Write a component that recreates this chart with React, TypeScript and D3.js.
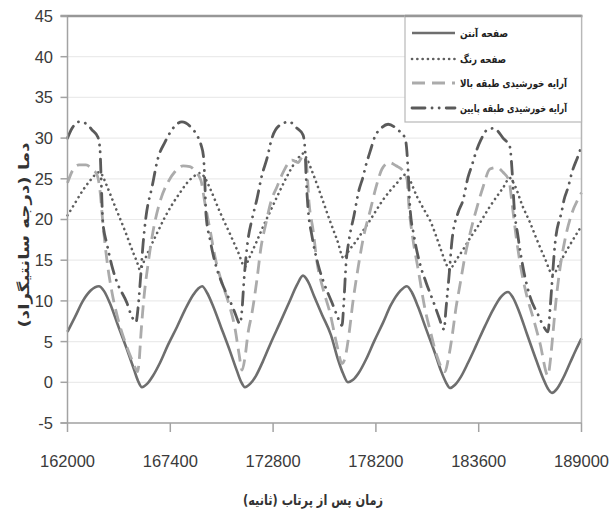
import React from "react";
import * as d3 from "d3";

// ---- data ----
const xTickValues = [162000, 167400, 172800, 178200, 183600, 189000];
const yTickValues = [-5, 0, 5, 10, 15, 20, 25, 30, 35, 40, 45];

const seriesNames = [
  "صفحه آنتن",
  "صفحه رنگ",
  "آرایه خورشیدی طبقه بالا",
  "آرایه خورشیدی طبقه پایین",
];
const xTitle = "زمان پس از پرتاب (ثانیه)";
const yTitle = "دما (درجه سانتیگراد)";

// antenna plate (solid)
const antennaTime = [
  162000, 162390, 162810, 163230, 163650, 163920, 164230, 164650, 165130, 165490, 165700, 165910,
  166180, 166490, 166860, 167280, 167750, 168170, 168590, 168860, 169070, 169330, 169640, 170060,
  170540, 170900, 171110, 171320, 171590, 171900, 172270, 172690, 173160, 173640, 174060, 174370,
  174630, 174950, 175370, 175840, 176210, 176470, 176730, 177000, 177310, 177680, 178100, 178570,
  178990, 179470, 179830, 180100, 180410, 180830, 181300, 181620, 181880, 182090, 182360, 182670,
  183040, 183460, 183930, 184350, 184770, 185140, 185400, 185720, 186140, 186610, 186980, 187240,
  187450, 187710, 188030, 188400, 188710, 189000,
];
const antennaTemp = [
  6.2, 8.0, 10.0, 11.3, 11.8, 11.2, 9.7, 7.0, 4.0, 1.6, 0.2, -0.6,
  -0.2, 0.8, 2.4, 4.6, 6.8, 8.9, 10.7, 11.5, 11.8, 11.0, 9.4, 6.8,
  3.8, 1.4, 0.1, -0.6, -0.2, 0.8, 2.6, 4.9, 7.3, 9.8, 12.0, 13.1,
  12.4, 10.6, 8.3, 5.8, 2.8, 1.1, 0.0, 0.3, 1.2, 2.8, 5.0, 7.3,
  9.5, 11.2, 11.8, 11.0, 9.3, 6.6, 3.6, 1.4, 0.0, -0.7, -0.3, 0.7,
  2.4, 4.5, 6.9, 8.9, 10.5, 11.1, 10.4, 8.7, 5.9, 2.8, 0.5, -0.8,
  -1.3, -0.8, 0.5, 2.4, 4.0, 5.4,
];

// paint plate (dotted)
const paintTime = [
  162000, 162390, 162810, 163230, 163650, 163810, 164020, 164500, 165020, 165440, 165650, 165810,
  165970, 166330, 166700, 167120, 167540, 167910, 168280, 168640, 168960, 169170, 169490, 170010,
  170540, 170960, 171320, 171530, 171900, 172270, 172690, 173110, 173530, 173950, 174210, 174370,
  174580, 174900, 175370, 175790, 176160, 176520, 176730, 177210, 177520, 177890, 178570, 179310,
  179730, 179940, 180360, 180780, 181040, 181570, 181880, 182090, 182300, 182780, 183140, 183510,
  184190, 184880, 185240, 185450, 185930, 186300, 186660, 187080, 187500, 187770, 188030, 188550,
  189000,
];
const paintTemp = [
  20.5, 22.0, 23.6, 24.9, 25.8, 25.5, 24.4, 21.6, 18.6, 16.0, 14.8, 13.8,
  14.6, 16.5, 18.3, 20.3, 22.0, 23.3, 24.5, 25.3, 25.7, 25.3, 23.8, 20.9,
  18.2, 16.0, 14.2, 15.2, 17.1, 19.1, 21.2, 23.3, 25.3, 27.0, 27.8, 28.1,
  27.4, 25.6, 22.6, 19.8, 17.5, 15.2, 16.0, 17.5, 18.6, 19.9, 22.4, 24.5,
  25.5, 25.0, 22.8, 21.0, 19.9, 16.6, 14.6, 13.8, 14.6, 16.3, 17.7, 19.0,
  21.6, 23.9, 25.1, 24.4, 21.5, 19.6, 17.5, 15.2, 13.2, 14.2, 15.4, 17.5,
  19.2,
];

// upper solar array (light long dash)
const upperTime = [
  162000, 162240, 162600, 162970, 163290, 163550, 163710, 163860, 164070, 164340, 164650, 165020,
  165340, 165550, 165680, 165760, 165860, 166020, 166230, 166490, 166860, 167280, 167650, 168070,
  168430, 168750, 169010, 169220, 169490, 169750, 170060, 170430, 170800, 171010, 171170, 171320,
  171480, 171690, 171950, 172160, 172430, 172690, 173000, 173370, 173790, 174110, 174370, 174530,
  174690, 174900, 175110, 175420, 175790, 176160, 176420, 176580, 176790, 177000, 177260, 177580,
  177890, 178210, 178520, 178890, 179260, 179620, 179830, 179940, 180150, 180410, 180780, 181090,
  181410, 181830, 181990, 182200, 182410, 182620, 182880, 183200, 183510, 183830, 184190, 184560,
  184880, 185190, 185350, 185560, 185820, 186140, 186450, 186820, 187240, 187350, 187500, 187660,
  187870, 188130, 188500, 188820, 189000,
];
const upperTemp = [
  24.5, 25.9, 26.7, 26.7, 26.2, 25.5, 23.5, 19.5, 15.0, 11.0, 7.8, 5.0,
  3.0, 1.8, 1.3, 2.5, 6.0, 10.5, 14.5, 18.5, 22.2, 24.6, 25.9, 26.6,
  26.5, 25.8, 24.8, 22.0, 18.7, 15.4, 12.6, 10.0, 6.6, 3.5, 1.5, 3.0,
  6.0, 8.5, 12.6, 16.5, 19.6, 22.2, 24.0, 26.0, 27.3, 27.0, 27.8, 27.3,
  22.0, 18.7, 14.7, 11.5, 8.5, 4.5, 2.3, 3.0, 6.0, 10.0, 14.0, 18.2,
  21.0, 24.0, 26.2, 27.0, 26.6, 26.0, 25.0, 21.5, 17.5, 14.0, 9.0, 6.0,
  3.2, 1.3, 2.7, 5.6, 9.2, 12.0, 15.5, 18.8, 21.5, 24.0, 26.2, 26.4,
  25.8, 24.8, 22.0, 18.0, 14.0, 10.5, 8.0, 4.8, 0.8, 2.4, 6.0, 10.0,
  14.0, 17.5, 20.8, 22.5, 23.3,
];

// lower solar array (dark long dash dot dot)
const lowerTime = [
  162000, 162240, 162600, 162970, 163290, 163600, 163710, 163760, 163860, 164070, 164390, 164600,
  165130, 165340, 165600, 165700, 165810, 165970, 166120, 166440, 166750, 167120, 167540, 168010,
  168540, 168860, 169010, 169140, 169200, 169280, 169490, 169800, 170060, 170590, 170800, 171060,
  171170, 171270, 171480, 171690, 171950, 172220, 172480, 172740, 173160, 173640, 174060, 174370,
  174480, 174530, 174630, 174840, 175160, 175470, 175890, 176160, 176420, 176520, 176630, 176790,
  177050, 177310, 177520, 177680, 177890, 178150, 178470, 178840, 179360, 179730, 179830, 179890,
  179990, 180200, 180520, 180830, 181250, 181510, 181780, 181880, 182040, 182200, 182510, 182780,
  183040, 183250, 183460, 183720, 184040, 184400, 184880, 185240, 185320, 185380, 185450, 185660,
  185980, 186300, 186720, 186980, 187240, 187350, 187450, 187610, 187980, 188080, 188290, 188500,
  188820, 189000,
];
const lowerTemp = [
  30.0, 31.2, 32.0, 31.8, 31.0, 30.1, 28.5, 25.5, 19.6, 17.0, 13.8, 12.3,
  9.7, 8.3, 7.4, 9.0, 12.0, 17.0, 20.3, 24.0, 27.5, 29.5, 31.2, 32.0,
  31.2, 30.1, 29.2, 27.8, 25.5, 20.5, 17.5, 14.3, 12.5, 9.7, 8.5, 7.2,
  9.0, 12.5, 17.5, 20.0, 22.5, 25.5, 27.5, 30.0, 31.6, 32.0, 31.2, 30.4,
  28.5, 25.5, 21.5, 18.0, 14.5, 12.2, 9.8, 8.2, 7.0, 10.0, 14.5, 17.5,
  20.5, 23.6, 25.2, 26.7, 28.3, 30.2, 31.2, 31.7, 31.0, 30.0, 28.3, 26.0,
  21.5, 18.0, 14.5, 12.3, 9.7, 8.0, 6.5, 9.0, 13.0, 17.5, 20.8, 22.4,
  25.2, 26.7, 28.3, 29.8, 31.0, 31.2, 30.0, 28.9, 27.1, 25.0, 22.0, 18.0,
  13.5, 10.5, 8.3, 7.0, 6.2, 9.0, 12.2, 17.0, 21.2, 22.4, 23.9, 25.8,
  27.8, 29.0,
];

// ---- layout & styles ----
const W = 610;
const H = 514;
const plotLeft = 67.5;
const plotRight = 581.5;
const plotTop = 16;
const plotBottom = 423;

const seriesStyles = [
  { color: "#6e6e6e", width: 2.6, dash: undefined as string | undefined, cap: "butt" },
  { color: "#5e5e5e", width: 2.6, dash: "0.1 5.2", cap: "round" },
  { color: "#ababab", width: 2.8, dash: "13 7", cap: "butt" },
  { color: "#5a5a5a", width: 2.8, dash: "13 7 0.1 7 0.1 7", cap: "round" },
];
const legendTextWidths = [48, 46, 107, 107];

const latin = "'Liberation Sans', Arial, sans-serif";
const persian = "'DejaVu Sans', sans-serif";

export default function App() {
  const x = d3.scaleLinear().domain([162000, 189000]).range([plotLeft, plotRight]);
  const y = d3.scaleLinear().domain([-5, 45]).range([plotBottom, plotTop]);

  const series = [
    { t: antennaTime, v: antennaTemp },
    { t: paintTime, v: paintTemp },
    { t: upperTime, v: upperTemp },
    { t: lowerTime, v: lowerTemp },
  ];

  const line = d3
    .line<[number, number]>()
    .x((d) => x(d[0]))
    .y((d) => y(d[1]))
    .curve(d3.curveMonotoneX);

  const legendX0 = 405;
  const legendY0 = 16;
  const legendW = 176.5;
  const legendH = 106;
  const legendRows = [33, 59, 83, 108];

  return (
    <svg
      width={W}
      height={H}
      style={{ position: "absolute", left: 0, top: 0, background: "#fff" }}
    >
      <rect x={0} y={0} width={W} height={H} fill="#fff" />
      {/* gridlines */}
      {yTickValues.map((v) => (
        <line
          key={"g" + v}
          x1={plotLeft}
          x2={plotRight}
          y1={y(v)}
          y2={y(v)}
          stroke="#ebebeb"
          strokeWidth={1.2}
        />
      ))}
      {/* series */}
      {series.map((s, i) => {
        const pts = s.t.map((t, j) => [t, s.v[j]] as [number, number]);
        const st = seriesStyles[i];
        return (
          <path
            key={"s" + i}
            d={line(pts) || ""}
            fill="none"
            stroke={st.color}
            strokeWidth={st.width}
            strokeDasharray={st.dash}
            strokeLinecap={st.cap as any}
            strokeLinejoin="round"
          />
        );
      })}
      {/* axes box */}
      <line x1={plotLeft} x2={plotLeft} y1={plotTop} y2={plotBottom} stroke="#a3a3a3" strokeWidth={1.5} />
      <line x1={plotRight} x2={plotRight} y1={plotTop} y2={plotBottom} stroke="#b5b5b5" strokeWidth={1.5} />
      <line x1={plotLeft - 7} x2={plotRight} y1={plotBottom} y2={plotBottom} stroke="#a3a3a3" strokeWidth={1.5} />
      <line x1={plotLeft - 7} x2={plotRight + 1} y1={plotTop} y2={plotTop} stroke="#979797" strokeWidth={2.5} />
      {/* y ticks */}
      {yTickValues.map((v) => (
        <g key={"yt" + v}>
          <line x1={plotLeft - 7} x2={plotLeft} y1={y(v)} y2={y(v)} stroke="#a3a3a3" strokeWidth={1.5} />
          <text
            x={53}
            y={y(v)}
            dy="0.36em"
            textAnchor="end"
            fontFamily={latin}
            fontSize={16.5}
            fill="#3a3a3a"
          >
            {v}
          </text>
        </g>
      ))}
      {/* x ticks */}
      {xTickValues.map((v) => (
        <g key={"xt" + v}>
          <line x1={x(v)} x2={x(v)} y1={plotBottom} y2={plotBottom + 9} stroke="#a3a3a3" strokeWidth={1.5} />
          <text
            x={x(v)}
            y={467}
            textAnchor="middle"
            fontFamily={latin}
            fontSize={16.5}
            fill="#3a3a3a"
          >
            {v}
          </text>
        </g>
      ))}
      {/* axis titles */}
      <text
        x={313}
        y={505}
        textAnchor="middle"
        fontFamily={persian}
        fontSize={14}
        fontWeight="bold"
        fill="#333"
        textLength={140}
        lengthAdjust="spacingAndGlyphs"
      >
        {xTitle}
      </text>
      <text
        transform="translate(29,235) rotate(-90)"
        textAnchor="middle"
        fontFamily={persian}
        fontSize={14}
        fontWeight="bold"
        fill="#333"
        textLength={185}
        lengthAdjust="spacingAndGlyphs"
      >
        {yTitle}
      </text>
      {/* legend */}
      <rect
        x={legendX0}
        y={legendY0}
        width={legendW}
        height={legendH}
        fill="#fff"
        stroke="#b8b8b8"
        strokeWidth={1.2}
      />
      <line x1={legendX0} x2={legendX0 + legendW} y1={plotTop} y2={plotTop} stroke="#979797" strokeWidth={2.5} />
      {seriesNames.map((name, i) => {
        const st = seriesStyles[i];
        const ry = legendRows[i];
        return (
          <g key={"lg" + i}>
            <line
              x1={412}
              x2={455}
              y1={ry}
              y2={ry}
              stroke={st.color}
              strokeWidth={st.width}
              strokeDasharray={st.dash}
              strokeLinecap={st.cap as any}
            />
            <text
              x={460}
              y={ry}
              dy="0.35em"
              textAnchor="start"
              fontFamily={persian}
              fontSize={10.5}
              fontWeight="bold"
              fill="#222"
              textLength={legendTextWidths[i]}
              lengthAdjust="spacingAndGlyphs"
            >
              {name}
            </text>
          </g>
        );
      })}
    </svg>
  );
}
